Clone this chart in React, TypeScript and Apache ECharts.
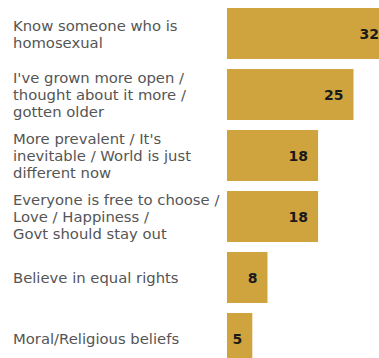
import React, { useEffect, useRef } from "react";
import * as echarts from "echarts";

const categories = [
  "Know someone who is\nhomosexual",
  "I've grown more open /\nthought about it more /\ngotten older",
  "More prevalent / It's\ninevitable / World is just\ndifferent now",
  "Everyone is free to choose /\nLove / Happiness /\nGovt should stay out",
  "Believe in equal rights",
  "Moral/Religious beliefs",
];
const values = [32, 25, 18, 18, 8, 5];

export default function App() {
  const ref = useRef<HTMLDivElement>(null);
  useEffect(() => {
    document.body.style.margin = "0";
    const chart = echarts.init(ref.current!, null, { renderer: "svg" });
    chart.setOption({
      animation: false,
      grid: {
        left: 227,
        top: 3,
        width: 202.4,
        height: 366,
        outerBoundsMode: "none",
        containLabel: false,
      },
      xAxis: { type: "value", min: 0, max: 40, show: false },
      yAxis: {
        type: "category",
        data: categories,
        inverse: true,
        axisLine: { show: false },
        axisTick: { show: false },
        axisLabel: {
          align: "left",
          margin: 214,
          fontFamily: "DejaVu Sans, Verdana, sans-serif",
          fontSize: 14.8,
          lineHeight: 17,
          color: "#555555",
        },
      },
      series: [
        {
          type: "bar",
          data: values,
          barCategoryGap: "16%",
          itemStyle: { color: "#CFA43F" },
          label: {
            show: true,
            position: "insideRight",
            distance: 10,
            fontFamily: "DejaVu Sans, Verdana, sans-serif",
            fontWeight: "bold",
            fontSize: 14,
            color: "#1a1a1a",
          },
        },
      ],
    });
    return () => chart.dispose();
  }, []);
  return <div ref={ref} style={{ width: 379, height: 358 }} />;
}
